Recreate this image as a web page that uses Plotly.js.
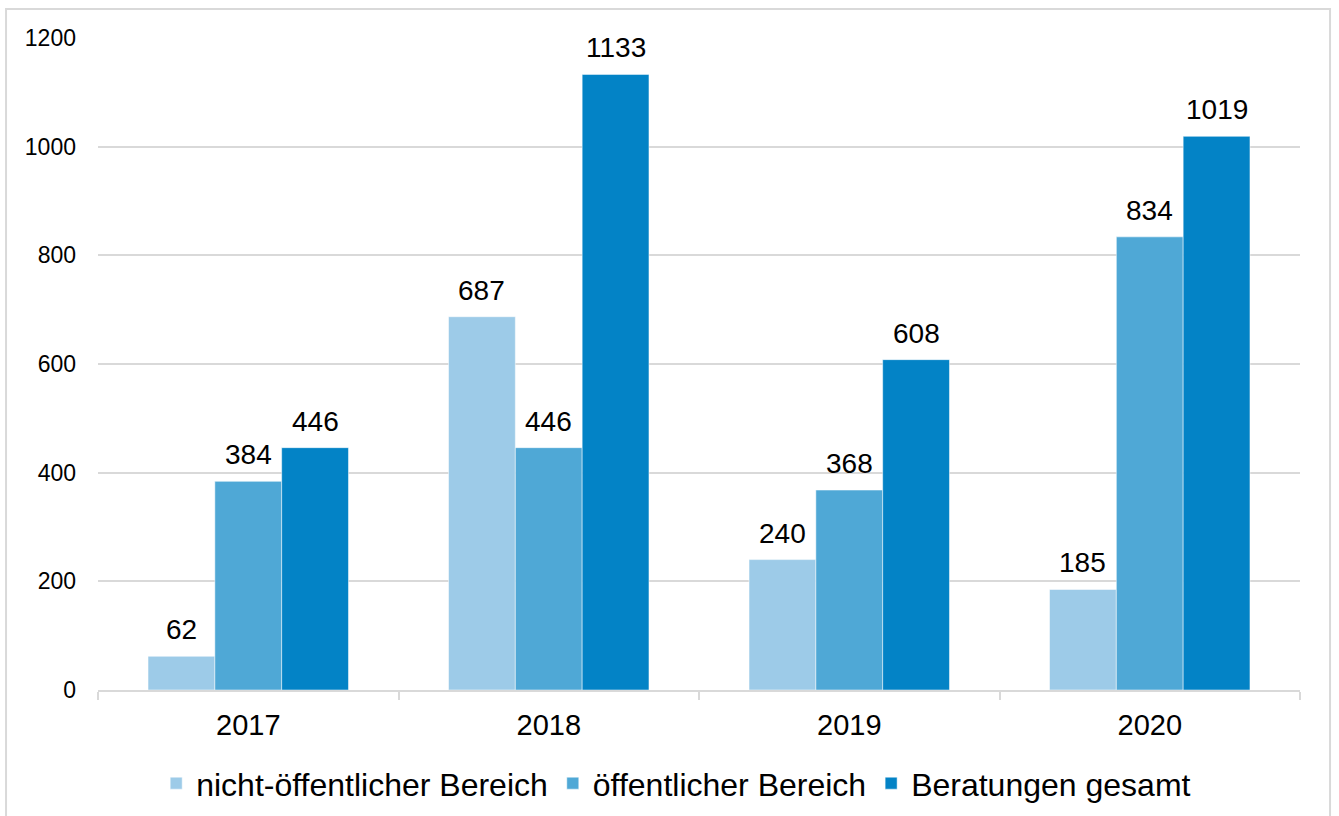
<!DOCTYPE html>
<html>
<head>
<meta charset="utf-8">
<script src="https://cdn.plot.ly/plotly-3.0.1.min.js"></script>
<style>
  body { margin: 0; background: #ffffff; }
  #chart { width: 1339px; height: 816px; }
</style>
</head>
<body>
<div id="chart"></div>
<script>
    var years = ['2017', '2018', '2019', '2020'];
    var nichtOeffentlich = [62, 687, 240, 185];
    var oeffentlich = [384, 446, 368, 834];
    var gesamt = [446, 1133, 608, 1019];

    var seriesNames = ['nicht-öffentlicher Bereich', 'öffentlicher Bereich', 'Beratungen gesamt'];
    var colors = ['#9dcbe8', '#4fa8d6', '#0383c6'];
    var values = [nichtOeffentlich, oeffentlich, gesamt];

    var bargap = 0.333;
    var barWidth = (1 - bargap) / values.length;

    var data = [];
    var annotations = [];
    for (var i = 0; i < values.length; i++) {
        data.push({
            type: 'bar',
            x: years,
            y: values[i],
            name: seriesNames[i],
            marker: { color: colors[i], line: { color: '#ffffff', width: 0.5 } },
            hoverinfo: 'x+y'
        });
        // value labels above each bar
        for (var k = 0; k < years.length; k++) {
            annotations.push({
                xref: 'x',
                yref: 'y',
                x: k + (i - 1) * barWidth,
                y: values[i][k],
                text: String(values[i][k]),
                showarrow: false,
                yanchor: 'bottom',
                yshift: 9,
                font: { size: 28, color: '#000000' }
            });
        }
    }

    var layout = {
        width: 1339,
        height: 816,
        margin: { l: 98, r: 39, t: 38, b: 126 },
        paper_bgcolor: '#ffffff',
        plot_bgcolor: '#ffffff',
        font: { family: 'Liberation Sans, Arial, sans-serif', color: '#000000' },
        barmode: 'group',
        bargap: bargap,
        bargroupgap: 0,
        showlegend: true,
        legend: {
            orientation: 'h',
            xref: 'container',
            yref: 'container',
            x: 0.505,
            xanchor: 'center',
            y: 0.04,
            yanchor: 'middle',
            font: { size: 32 },
            traceorder: 'normal'
        },
        xaxis: {
            type: 'category',
            tickson: 'boundaries',
            ticks: 'outside',
            ticklen: 8,
            tickcolor: '#d9d9d9',
            tickwidth: 1.5,
            showline: true,
            linecolor: '#d9d9d9',
            linewidth: 1.5,
            showgrid: false,
            automargin: false,
            tickfont: { size: 29 },
            ticklabelstandoff: 8
        },
        yaxis: {
            range: [0, 1200],
            dtick: 200,
            showline: false,
            ticks: '',
            gridcolor: '#d9d9d9',
            gridwidth: 1.5,
            zeroline: false,
            automargin: false,
            tickfont: { size: 23 },
            ticklabelstandoff: 21
        },
        annotations: annotations,
        shapes: [{
            type: 'rect',
            xref: 'paper',
            yref: 'paper',
            x0: -0.0765,
            x1: 1.025,
            y0: -0.3,
            y1: 1.0445,
            line: { color: '#d9d9d9', width: 2 },
            fillcolor: 'rgba(0,0,0,0)',
            layer: 'below'
        }]
    };

    Plotly.newPlot('chart', data, layout, { displayModeBar: false });
</script>
</body>
</html>
